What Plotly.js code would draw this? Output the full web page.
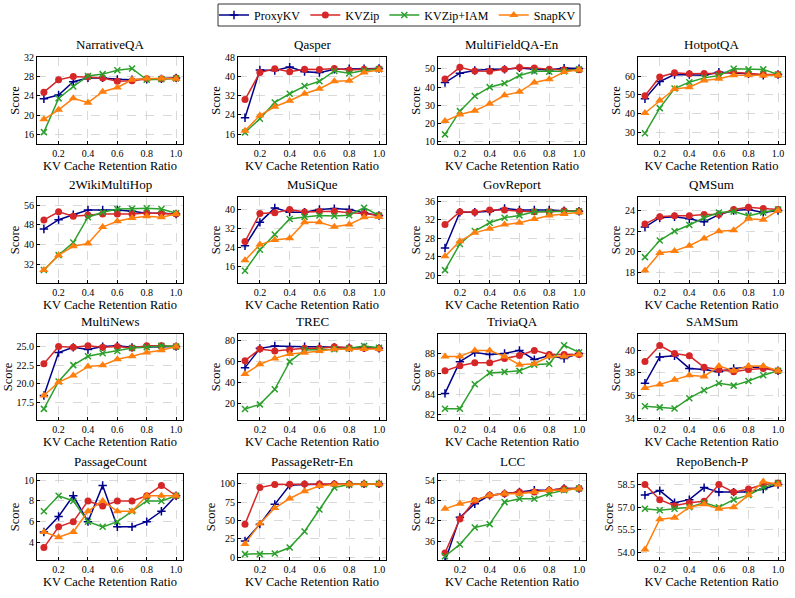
<!DOCTYPE html>
<html>
<head>
<meta charset="utf-8">
<script src="https://cdn.plot.ly/plotly-3.0.1.min.js"></script>
<style>
  html, body { margin: 0; padding: 0; background: #fff; }
  #chart { width: 795px; height: 598px; }
</style>
</head>
<body>
<div id="chart"></div>
<script>
// KV cache retention ratios on the x axis
const ratios = [0.1, 0.2, 0.3, 0.4, 0.5, 0.6, 0.7, 0.8, 0.9, 1.0];

// LongBench tasks, row by row
const tasks = [
  'NarrativeQA', 'Qasper', 'MultiFieldQA-En', 'HotpotQA',
  '2WikiMultiHop', 'MuSiQue', 'GovReport', 'QMSum',
  'MultiNews', 'TREC', 'TriviaQA', 'SAMSum',
  'PassageCount', 'PassageRetr-En', 'LCC', 'RepoBench-P'
];

// Scores per method, one row per task (same order as tasks)
const proxyKV = [
  [23.4, 24.2, 27.0, 27.8, 27.8, 27.5, 27.4, 27.5, 27.6, 27.8],
  [22.8, 42.7, 42.5, 43.9, 42.0, 41.6, 43.0, 43.2, 43.2, 43.3],
  [42.5, 47.7, 49.2, 49.8, 49.8, 50.6, 49.8, 49.4, 50.5, 50.2],
  [48.0, 57.1, 60.9, 60.9, 60.5, 62.1, 61.8, 61.3, 60.5, 60.9],
  [46.3, 50.1, 52.1, 54.0, 54.0, 54.0, 53.5, 52.7, 52.7, 52.4],
  [24.7, 34.6, 40.7, 38.9, 38.9, 40.0, 40.4, 40.0, 38.6, 37.5],
  [25.9, 33.7, 33.7, 33.9, 34.5, 34.2, 34.2, 34.2, 34.0, 33.9],
  [22.4, 23.3, 23.4, 23.2, 22.9, 23.6, 24.0, 24.1, 23.8, 24.0],
  [18.4, 24.2, 24.9, 24.6, 25.0, 25.1, 24.9, 24.9, 25.0, 25.0],
  [53.8, 72.1, 74.3, 73.7, 73.7, 73.7, 73.0, 72.7, 72.7, 72.1],
  [84.1, 87.2, 88.1, 87.9, 88.0, 88.3, 87.4, 87.8, 87.5, 88.0],
  [37.1, 39.4, 39.5, 38.4, 38.3, 38.1, 38.4, 38.5, 38.5, 38.2],
  [5.0, 6.5, 8.5, 6.0, 9.5, 5.5, 5.5, 6.0, 7.0, 8.5],
  [22.0, 45.0, 72.0, 98.0, 99.0, 99.0, 99.5, 99.5, 100.0, 100.0],
  [30.0, 43.0, 47.0, 49.5, 50.0, 50.5, 51.0, 51.0, 51.5, 51.5],
  [57.8, 58.1, 57.3, 57.5, 58.3, 58.0, 58.0, 58.0, 58.2, 58.5]
];

const kvZip = [
  [24.8, 27.4, 28.1, 28.0, 27.8, 27.1, 27.2, 27.6, 27.6, 27.8],
  [30.4, 41.6, 43.2, 42.0, 43.0, 42.9, 43.3, 42.7, 43.0, 43.2],
  [44.5, 50.9, 48.9, 48.7, 49.8, 50.8, 50.6, 49.8, 49.6, 49.6],
  [49.6, 59.6, 61.8, 61.3, 61.4, 61.4, 62.1, 61.3, 60.9, 60.9],
  [50.0, 53.3, 51.5, 52.0, 52.4, 52.4, 52.4, 52.8, 52.7, 52.4],
  [26.5, 38.3, 38.6, 40.0, 39.0, 39.3, 39.3, 38.6, 38.3, 37.5],
  [31.0, 33.8, 33.7, 34.2, 34.2, 33.9, 33.8, 33.8, 34.0, 33.9],
  [22.7, 23.4, 23.5, 23.5, 23.6, 23.6, 24.1, 24.3, 24.2, 24.1],
  [22.7, 25.0, 24.9, 25.1, 24.9, 25.0, 24.8, 25.1, 25.1, 25.0],
  [60.4, 71.5, 69.6, 70.5, 72.1, 72.1, 73.7, 72.7, 72.1, 72.1],
  [86.3, 86.8, 87.1, 87.1, 87.5, 87.8, 88.3, 87.9, 87.9, 87.9],
  [39.0, 40.4, 39.7, 39.5, 38.5, 38.3, 38.1, 38.3, 38.4, 38.2],
  [3.5, 5.5, 6.0, 8.0, 7.5, 8.0, 8.0, 8.5, 9.5, 8.5],
  [45.0, 95.0, 99.0, 99.5, 100.0, 100.0, 100.0, 100.0, 100.0, 100.0],
  [32.5, 42.5, 48.0, 49.5, 50.0, 50.5, 50.5, 51.0, 51.5, 51.5],
  [58.5, 57.5, 57.1, 57.3, 57.4, 58.5, 58.0, 58.2, 58.5, 58.6]
];

const kvZipIAM = [
  [16.4, 23.5, 26.0, 28.2, 28.6, 29.4, 29.8, 27.4, 27.5, 27.7],
  [16.7, 22.4, 29.2, 32.8, 36.0, 38.0, 42.3, 41.3, 42.5, 43.0],
  [14.0, 26.8, 35.1, 40.0, 42.1, 46.4, 48.7, 48.5, 48.7, 49.8],
  [29.6, 43.0, 53.4, 56.8, 59.1, 60.4, 63.9, 63.6, 63.6, 60.9],
  [29.7, 35.7, 40.8, 51.1, 53.1, 54.4, 54.5, 54.7, 54.4, 52.7],
  [14.2, 23.0, 29.5, 36.0, 36.9, 37.5, 37.3, 37.6, 40.8, 37.5],
  [21.1, 26.8, 29.6, 31.4, 32.5, 33.0, 33.8, 33.8, 33.8, 33.9],
  [19.5, 21.1, 22.0, 22.6, 23.3, 23.8, 23.9, 23.5, 23.8, 24.1],
  [16.6, 20.3, 22.5, 23.7, 24.1, 24.4, 24.8, 24.9, 25.1, 25.0],
  [14.7, 19.0, 33.3, 59.5, 70.5, 70.5, 71.2, 72.1, 74.3, 72.7],
  [82.6, 82.6, 85.0, 86.1, 86.2, 86.3, 86.9, 87.0, 88.8, 88.1],
  [35.1, 35.0, 34.9, 35.8, 36.5, 37.1, 36.9, 37.3, 37.8, 38.2],
  [7.0, 8.5, 8.0, 6.0, 5.5, 6.0, 7.0, 8.0, 8.0, 8.5],
  [4.0, 4.0, 5.0, 13.0, 35.0, 65.0, 95.0, 99.0, 99.5, 100.0],
  [31.5, 35.0, 40.0, 41.0, 47.5, 48.5, 48.5, 50.0, 51.0, 51.5],
  [56.9, 56.8, 56.9, 57.0, 57.3, 57.0, 57.5, 57.8, 58.3, 58.6]
];

const snapKV = [
  [19.1, 21.1, 23.5, 22.6, 24.9, 25.8, 27.4, 27.7, 27.7, 27.6],
  [17.4, 23.8, 27.4, 29.9, 32.8, 34.9, 38.0, 38.2, 41.7, 42.7],
  [21.3, 24.9, 27.0, 30.8, 35.5, 37.4, 42.6, 44.3, 48.3, 49.6],
  [40.4, 47.0, 53.2, 54.1, 57.7, 58.6, 60.5, 60.5, 60.4, 60.5],
  [29.7, 35.7, 39.3, 40.4, 47.1, 49.5, 50.8, 51.5, 51.1, 52.4],
  [18.6, 25.2, 27.2, 27.9, 34.6, 34.6, 32.7, 33.7, 36.7, 36.9],
  [24.1, 27.4, 29.2, 30.1, 31.0, 31.4, 32.2, 33.0, 33.3, 33.7],
  [18.2, 19.9, 20.1, 20.6, 21.3, 22.0, 22.1, 23.2, 23.1, 24.0],
  [18.4, 20.2, 21.1, 22.3, 22.5, 23.3, 23.7, 24.2, 24.5, 25.0],
  [47.8, 57.0, 62.6, 66.8, 68.0, 69.6, 71.2, 71.2, 71.5, 71.5],
  [87.7, 87.7, 88.3, 88.3, 87.7, 86.9, 87.0, 87.7, 87.7, 87.9],
  [36.7, 37.0, 37.4, 37.8, 37.7, 38.6, 38.2, 38.6, 38.6, 38.2],
  [5.0, 4.5, 5.0, 7.0, 8.0, 7.0, 7.0, 8.5, 8.5, 8.5],
  [18.0, 46.0, 67.0, 80.0, 90.0, 97.0, 99.0, 99.5, 100.0, 100.0],
  [45.5, 47.0, 48.0, 49.5, 50.0, 50.0, 50.5, 51.0, 51.0, 51.5],
  [54.2, 56.2, 56.3, 57.0, 57.2, 56.9, 57.0, 57.8, 58.7, 58.5]
];

// Y tick labels per task
const yTickLabels = [
  ['16', '20', '24', '28', '32'],
  ['16', '24', '32', '40', '48'],
  ['10', '20', '30', '40', '50'],
  ['30', '40', '50', '60'],
  ['32', '40', '48', '56'],
  ['16', '24', '32', '40'],
  ['20', '24', '28', '32', '36'],
  ['18', '20', '22', '24'],
  ['17.5', '20.0', '22.5', '25.0'],
  ['20', '40', '60', '80'],
  ['82', '84', '86', '88'],
  ['34', '36', '38', '40'],
  ['4', '6', '8', '10'],
  ['0', '25', '50', '75', '100'],
  ['36', '42', '48', '54'],
  ['54.0', '55.5', '57.0', '58.5']
];
const xTickLabels = ['0.2', '0.4', '0.6', '0.8', '1.0'];

// ---- layout settings ----
const W = 795, H = 598;
const colPx = [[37, 183], [238, 386], [438, 586], [638, 785]];
const rowPx = [[57, 144], [197, 283], [334, 420], [474, 560]];
const yRanges = [
  [13.9, 32.2], [11.9, 48.1], [8.7, 56.6], [23.9, 70.2],
  [24.4, 59.3], [9.0, 45.3], [18.3, 37.0], [17.0, 25.3],
  [15.1, 26.7], [4.2, 85.7], [81.5, 89.9], [33.9, 41.4],
  [2.3, 10.6], [-4.0, 113.5], [30.4, 55.8], [53.5, 59.2]
];

const methods = [
  { name: 'ProxyKV', data: proxyKV, color: '#00008b', symbol: 'cross-thin', size: 6, thin: true },
  { name: 'KVZip', data: kvZip, color: '#d62728', symbol: 'circle', size: 7, thin: false },
  { name: 'KVZip+IAM', data: kvZipIAM, color: '#2ca02c', symbol: 'x-thin', size: 6, thin: true },
  { name: 'SnapKV', data: snapKV, color: '#ff7f0e', symbol: 'triangle-up', size: 8, thin: false }
];

const serif = '"Liberation Serif", "Times New Roman", Times, serif';
const traces = [];
const layout = {
  width: W, height: H,
  margin: { l: 0, r: 0, t: 0, b: 0 },
  paper_bgcolor: '#ffffff',
  plot_bgcolor: '#ffffff',
  font: { family: serif, color: '#000' },
  showlegend: true,
  legend: {
    orientation: 'h',
    x: 0.5, xanchor: 'center',
    y: 1 - 15 / H, yanchor: 'middle',
    borderwidth: 0,
    bgcolor: 'rgba(0,0,0,0)',
    font: { family: serif, size: 12, color: '#000' },
    itemwidth: 30
  },
  // frame around the legend entries
  shapes: [{
    type: 'rect', xref: 'paper', yref: 'paper',
    x0: 218 / W, x1: 580 / W, y0: 1 - 26 / H, y1: 1 - 4 / H,
    line: { color: '#333', width: 1 }, fillcolor: 'rgba(0,0,0,0)'
  }],
  annotations: []
};

tasks.forEach((task, i) => {
  const r = Math.floor(i / 4), c = i % 4;
  const sfx = i === 0 ? '' : String(i + 1);
  const xa = 'xaxis' + sfx, ya = 'yaxis' + sfx;
  const xDomain = [colPx[c][0] / W, colPx[c][1] / W];
  const yDomain = [1 - rowPx[r][1] / H, 1 - rowPx[r][0] / H];

  const common = {
    showline: true, mirror: true, linecolor: '#000', linewidth: 1,
    ticks: 'inside', ticklen: 3, tickcolor: '#000',
    showgrid: true, gridcolor: '#d0d0d0', griddash: 'dash', gridwidth: 0.8,
    zeroline: false,
    tickfont: { family: serif, size: 10, color: '#000' }
  };

  layout[xa] = Object.assign({}, common, {
    domain: xDomain,
    anchor: 'y' + sfx,
    range: [0.053, 1.047],
    tickvals: xTickLabels.map(Number),
    ticktext: xTickLabels,
    title: { text: 'KV Cache Retention Ratio', font: { family: serif, size: 12.5, color: '#000' }, standoff: 0 }
  });
  layout[ya] = Object.assign({}, common, {
    domain: yDomain,
    anchor: 'x' + sfx,
    range: yRanges[i],
    tickvals: yTickLabels[i].map(Number),
    ticktext: yTickLabels[i],
    title: { text: 'Score', font: { family: serif, size: 12.5, color: '#000' }, standoff: 1 }
  });

  layout.annotations.push({
    text: task,
    xref: 'paper', yref: 'paper',
    x: (xDomain[0] + xDomain[1]) / 2, y: yDomain[1],
    xanchor: 'center', yanchor: 'bottom', yshift: 3,
    showarrow: false,
    font: { family: serif, size: 13, color: '#000' }
  });

  methods.forEach(m => {
    traces.push({
      type: 'scatter', mode: 'lines+markers',
      x: ratios, y: m.data[i],
      xaxis: 'x' + sfx, yaxis: 'y' + sfx,
      name: m.name, legendgroup: m.name,
      showlegend: i === 0,
      line: { color: m.color, width: 1.5 },
      marker: {
        symbol: m.symbol, size: m.size, color: m.color,
        line: { color: m.color, width: m.thin ? 1.5 : 0 }
      }
    });
  });
});

Plotly.newPlot('chart', traces, layout, { displayModeBar: false, staticPlot: true });
</script>
</body>
</html>
